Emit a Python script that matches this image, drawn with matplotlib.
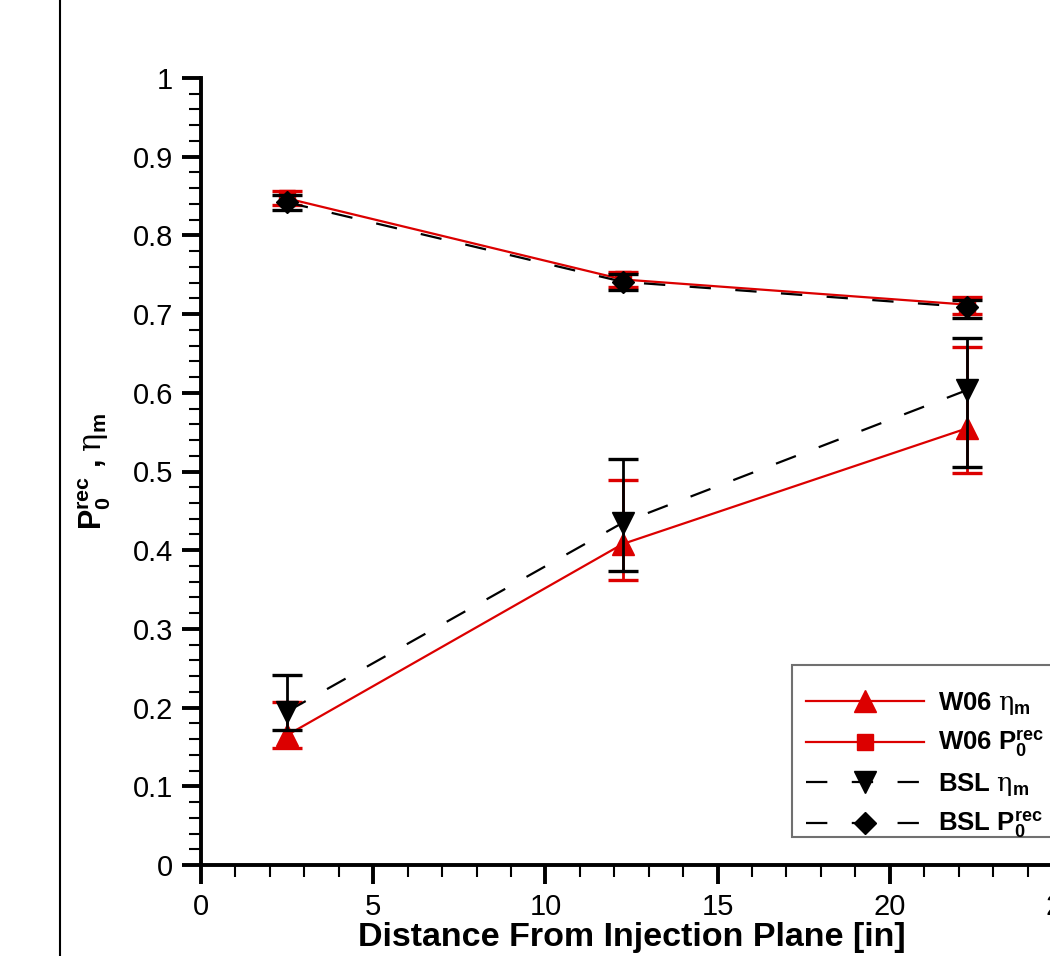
import matplotlib
matplotlib.use("Agg")
import matplotlib.pyplot as plt
from matplotlib.lines import Line2D
from matplotlib.patches import Rectangle
import numpy as np

plt.rcParams['font.family'] = ['Liberation Sans', 'DejaVu Sans']
plt.rcParams['mathtext.fontset'] = 'custom'
plt.rcParams['mathtext.rm'] = 'DejaVu Serif'
plt.rcParams['mathtext.it'] = 'DejaVu Serif'
plt.rcParams['mathtext.bf'] = 'Liberation Sans:bold'

# ---- data ----
x_pos = [2.5, 12.25, 22.25]

w06_eta = [0.165, 0.408, 0.555]
w06_eta_lo = [0.149, 0.362, 0.4975]
w06_eta_hi = [0.207, 0.489, 0.658]

w06_p0 = [0.847, 0.744, 0.712]
w06_p0_lo = [0.838, 0.734, 0.700]
w06_p0_hi = [0.857, 0.753, 0.722]

bsl_eta = [0.195, 0.435, 0.6036]
bsl_eta_lo = [0.171, 0.374, 0.506]
bsl_eta_hi = [0.241, 0.516, 0.670]

bsl_p0 = [0.842, 0.741, 0.709]
bsl_p0_lo = [0.832, 0.730, 0.6955]
bsl_p0_hi = [0.851, 0.751, 0.718]

labels = [r'W06 $\mathrm{\eta}_\mathbf{m}$',
          r'W06 $\mathbf{P_0^{rec}}$',
          r'BSL $\mathrm{\eta}_\mathbf{m}$',
          r'BSL $\mathbf{P_0^{rec}}$']

x_ticks = [0, 5, 10, 15, 20, 25]
y_ticks = [0, 0.1, 0.2, 0.3, 0.4, 0.5, 0.6, 0.7, 0.8, 0.9, 1]
y_ticklabels = ['0', '0.1', '0.2', '0.3', '0.4', '0.5', '0.6', '0.7', '0.8', '0.9', '1']

RED = '#dc0000'
BLACK = 'black'

W, H = 1050, 956
fig = plt.figure(figsize=(W/100, H/100), dpi=100)
ax = fig.add_axes([201/W, 1 - 865/H, (1062 - 201)/W, (865 - 78)/H])

series = [
    (w06_eta, w06_eta_lo, w06_eta_hi, RED, '^', 15.5, '-', labels[0]),
    (w06_p0, w06_p0_lo, w06_p0_hi, RED, 's', 12, '-', labels[1]),
    (bsl_eta, bsl_eta_lo, bsl_eta_hi, BLACK, 'v', 15.5, '--', labels[2]),
    (bsl_p0, bsl_p0_lo, bsl_p0_hi, BLACK, 'D', 11.5, '--', labels[3]),
]

handles = []
for i, (y, lo, hi, col, mk, ms, ls, lab) in enumerate(series):
    y = np.array(y); lo = np.array(lo); hi = np.array(hi)
    yerr = np.vstack([y - lo, hi - y])
    ax.errorbar(x_pos, y, yerr=yerr, fmt='none', ecolor=col, elinewidth=2.0,
                capsize=10.5, capthick=2.4, zorder=3 + i)
    kw = dict(color=col, lw=1.6, marker=mk, ms=ms, mfc=col, mec=col,
              label=lab, zorder=3 + i)
    if ls == '--':
        kw['dashes'] = (9.6, 11)
    ln, = ax.plot(x_pos, y, **kw)
    handles.append(ln)

ax.set_xlim(0, 25)
ax.set_ylim(0, 1)
ax.set_xticks(x_ticks)
ax.set_xticklabels([str(t) for t in x_ticks])
ax.set_yticks(y_ticks)
ax.set_yticklabels(y_ticklabels)
ax.set_xticks(np.arange(0, 25.01, 1), minor=True)
ax.set_yticks(np.arange(0, 1.001, 0.02), minor=True)

for s in ['top', 'right']:
    ax.spines[s].set_visible(False)
for s in ['left', 'bottom']:
    ax.spines[s].set_linewidth(2.8)

ax.tick_params(which='major', direction='out', length=14, width=2.8,
               labelsize=21, pad=6)
ax.tick_params(which='minor', direction='out', length=8.5, width=1.5)

ax.set_xlabel('Distance From Injection Plane [in]', fontsize=24.5,
              fontweight='bold', labelpad=1)
ax.set_ylabel(r'$\mathbf{P_0^{rec}}$ , $\mathrm{\eta}_\mathbf{m}$', fontsize=22,
              fontweight='bold', labelpad=14)

# legend frame (reference frame is cut off by the right edge)
frame = Rectangle((792/W, 1 - 837/H), (1070 - 792)/W, (837 - 665)/H,
                  transform=fig.transFigure, facecolor='white',
                  edgecolor='#707070', lw=1.5, zorder=9, clip_on=False)
ax.add_patch(frame)

leg = ax.legend(handles=handles, loc='upper left',
                bbox_to_anchor=(792/W, 1 - 676/H),
                bbox_transform=fig.transFigure, numpoints=1,
                handlelength=4.6, handletextpad=0.55, labelspacing=0.45,
                borderpad=0.55, borderaxespad=0, fancybox=False,
                prop={'size': 18.5, 'weight': 'bold'}, frameon=False)
leg.set_zorder(10)

fig.add_artist(Line2D([60/W, 60/W], [0, 1], color='black', lw=1.5,
                      transform=fig.transFigure))

fig.savefig('out.png', dpi=100)
